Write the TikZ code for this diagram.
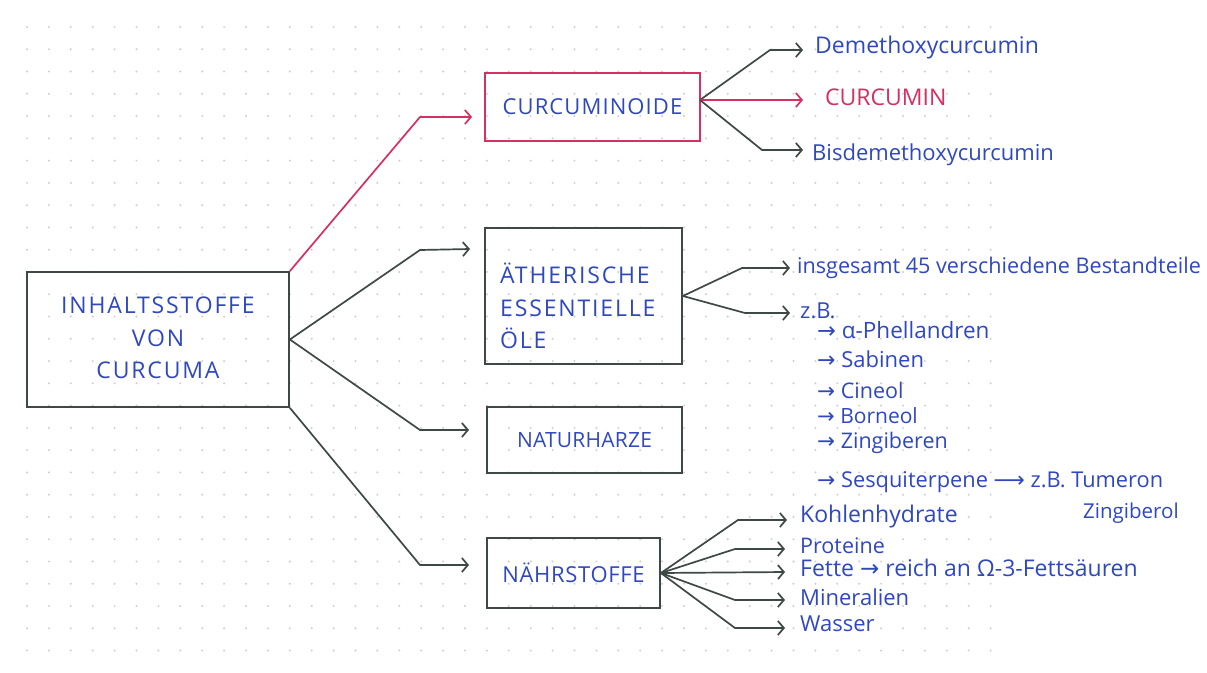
\documentclass[tikz,border=0pt]{standalone}
\usepackage{fontspec}
\setmainfont{Open Sans}
\newfontfamily\symfont{DejaVu Sans}
\usetikzlibrary{arrows.meta}
\definecolor{ink}{RGB}{48,72,190}
\definecolor{redink}{RGB}{214,48,98}
\definecolor{pen}{RGB}{62,72,68}
\definecolor{dotc}{RGB}{205,205,210}
\newcommand\ra{{\symfont →}}
\newcommand\lra{{\symfont ⟶}}
\newcommand\fs[1]{\fontsize{#1}{24}\selectfont}
\newcommand\capfont[2]{\fontsize{#1}{32.5}\selectfont\addfontfeatures{LetterSpace=#2}}
\tikzset{
  box/.style={draw=pen, line width=1.8pt, inner sep=0pt},
  capt/.style={text=ink, align=center, inner sep=0pt},
  item/.style={text=ink, anchor=west, inner sep=0pt, font=\fs{22},
               text height=14pt, text depth=4pt},
  link/.style={draw=pen, line width=1.7pt, line join=round,
               -{Straight Barb[length=6pt,width=14pt,line width=1.7pt]}},
}
\begin{document}
\begin{tikzpicture}[x=1pt,y=-1pt]
  \useasboundingbox (0,0) rectangle (1207,672);
  \fill[white] (0,0) rectangle (1207,672);
  % dotted paper
  \foreach \i in {0,...,44}
    \foreach \j in {0,...,28}
      \fill[dotc] (27+21.9*\i, 27+22.27*\j) circle (1.1);

  % boxes
  \node[box, minimum width=262pt, minimum height=135pt] (main) at (158,339.5) {};
  \node[capt, font=\capfont{23}{8}] (maintext) at (158,338) {INHALTSSTOFFE\\VON\\CURCUMA};
  \node[box, draw=redink, minimum width=215pt, minimum height=68pt] (cur) at (592.5,107)
       {\textcolor{ink}{\capfont{22}{5}CURCUMINOIDE}};
  \node[box, minimum width=197pt, minimum height=136pt] (aeth) at (583.5,296) {};
  \node[capt, align=left, anchor=west, font=\capfont{23}{8}] (aethtext) at (500,306)
       {ÄTHERISCHE\\ESSENTIELLE\\ÖLE};
  \node[box, minimum width=195pt, minimum height=66pt] (natur) at (584.5,440)
       {\textcolor{ink}{\capfont{21}{1}NATURHARZE}};
  \node[box, minimum width=173pt, minimum height=70pt] (naehr) at (573.5,573)
       {\textcolor{ink}{\capfont{22}{3}NÄHRSTOFFE}};

  % main branches
  \coordinate (k1) at (420,117); \coordinate (t1) at (472,117);
  \coordinate (k2) at (420,250); \coordinate (t2) at (470,249);
  \coordinate (k3) at (420,430); \coordinate (t3) at (469,430);
  \coordinate (k4) at (420,565); \coordinate (t4) at (469,565);
  \draw[link, draw=redink] (main.north east) -- (k1) -- (t1);
  \draw[link] (main.east) -- (k2) -- (t2);
  \draw[link] (main.east) -- (k3) -- (t3);
  \draw[link] (main.south east) -- (k4) -- (t4);

  % curcuminoids
  \coordinate (cs) at (700,100);
  \node[item, font=\fs{23}] (c1) at (815,48) {Demethoxycurcumin};
  \node[item, font=\fs{23}, text=redink] (c2) at (825,100) {CURCUMIN};
  \node[item, font=\fs{22}] (c3) at (812,155) {Bisdemethoxycurcumin};
  \coordinate (ck1) at (770,50);
  \coordinate (ck3) at (762,150);
  \draw[link] (cs) -- (ck1) -- ([xshift=-12pt]c1.west |- ck1);
  \draw[link, draw=redink] (cs) -- ([xshift=-22pt]c2.west);
  \draw[link] (cs) -- (ck3) -- ([xshift=-9pt]c3.west |- ck3);

  % essential oils
  \node[item, font=\fs{21.6}] (e1) at (797,268) {insgesamt 45 verschiedene Bestandteile};
  \node[item] (e2) at (800,313) {z.B.};
  \coordinate (ek1) at (742,268);
  \coordinate (ek2) at (745,313);
  \draw[link] (aeth.east) -- (ek1) -- ([xshift=-7pt]e1.west);
  \draw[link] (aeth.east) -- (ek2) -- ([xshift=-10pt]e2.west);
  \node[item, font=\fs{22.5}] (s1) at (817,333) {\ra\ α-Phellandren};
  \node[item] (s2) at (817,362) {\ra\ Sabinen};
  \node[item, font=\fs{21.5}] (s3) at (817,393) {\ra\ Cineol};
  \node[item, font=\fs{21}] (s4) at (817,418) {\ra\ Borneol};
  \node[item, font=\fs{21.5}] (s5) at (817,443) {\ra\ Zingiberen};
  \node[item, font=\fs{21.8}] (s6) at (817,482) {\ra\ Sesquiterpene \lra\ z.B. Tumeron};
  \node[item, font=\fs{20.5}] (s7) at (1083,513) {Zingiberol};

  % nutrients
  \node[item, font=\fs{23}] (n1) at (800,517) {Kohlenhydrate};
  \node[item, font=\fs{21.5}] (n2) at (800,548) {Proteine};
  \node[item, font=\fs{23}] (n3) at (800,571) {Fette \ra\ reich an Ω-3-Fettsäuren};
  \node[item] (n4) at (800,600) {Mineralien};
  \node[item] (n5) at (800,626) {Wasser};
  \coordinate (nk1) at (738,520);
  \coordinate (nk2) at (735,549);
  \coordinate (nk4) at (735,600);
  \coordinate (nk5) at (735,628);
  \draw[link] (naehr.east) -- (nk1) -- (787,520);
  \draw[link] (naehr.east) -- (nk2) -- (785,549);
  \draw[link] (naehr.east) -- (785,572);
  \draw[link] (naehr.east) -- (nk4) -- (785,600);
  \draw[link] (naehr.east) -- (nk5) -- (785,628);
\end{tikzpicture}
\end{document}
